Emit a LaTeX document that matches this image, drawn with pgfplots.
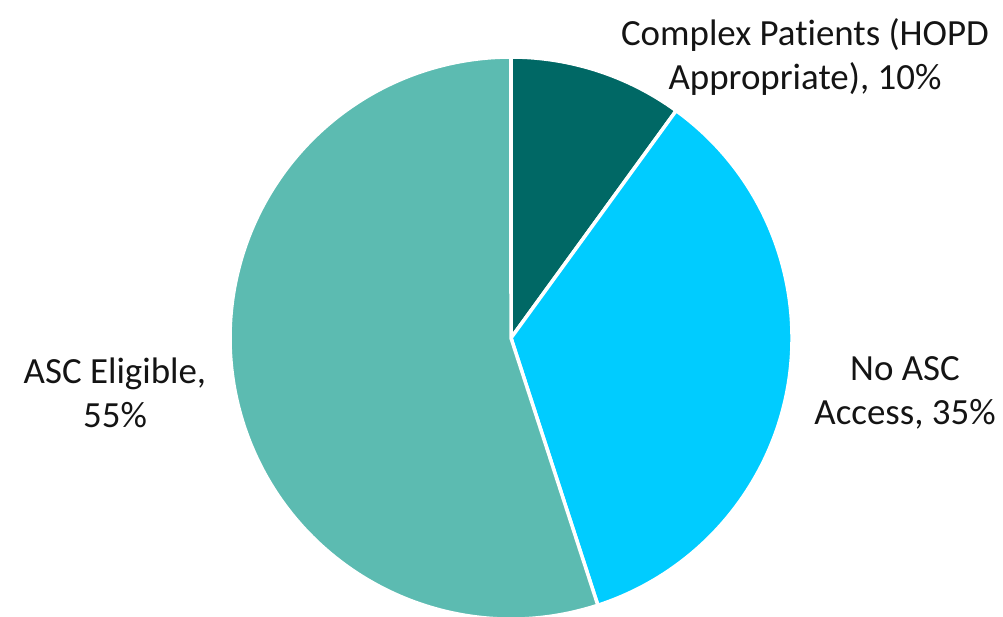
\documentclass[border=0pt]{standalone}
\usepackage{pgfplots}
\usepackage{pgfplotstable}
\pgfplotsset{compat=1.18}
\usepackage{fontspec}
\setmainfont[Ligatures=NoCommon]{Carlito}

\definecolor{complexcol}{HTML}{006865}
\definecolor{noasccol}{HTML}{00CCFF}
\definecolor{asccol}{HTML}{5CBBB1}
\definecolor{txt}{HTML}{141414}

% Share of cases by setting (percent), clockwise from 12 o'clock
\pgfplotstableread{
value
10
35
55
}\sharetable

\begin{document}
\begin{tikzpicture}
% Cumulative slice angles (start at 90 deg, go clockwise)
\pgfplotstablegetelem{0}{value}\of\sharetable \let\va\pgfplotsretval
\pgfplotstablegetelem{1}{value}\of\sharetable \let\vb\pgfplotsretval
\pgfplotstablegetelem{2}{value}\of\sharetable \let\vc\pgfplotsretval
\pgfmathsetmacro{\total}{\va+\vb+\vc}
\pgfmathsetmacro{\angA}{90}
\pgfmathsetmacro{\angB}{\angA-\va/\total*360}
\pgfmathsetmacro{\angC}{\angB-\vb/\total*360}
\pgfmathsetmacro{\angD}{\angC-\vc/\total*360}
\begin{axis}[
  scale only axis,
  width=10.03cm, height=6.16cm,
  xmin=0, xmax=1003, ymin=0, ymax=616,
  hide axis,
  clip=true,
]
\def\rad{2.81cm}
\fill[complexcol, draw=white, line width=1pt, line join=round]
  (axis cs:511,278) -- ++(\angA:\rad) arc[start angle=\angA, end angle=\angB, radius=\rad] -- cycle;
\fill[noasccol, draw=white, line width=1pt, line join=round]
  (axis cs:511,278) -- ++(\angB:\rad) arc[start angle=\angB, end angle=\angC, radius=\rad] -- cycle;
\fill[asccol, draw=white, line width=1pt, line join=round]
  (axis cs:511,278) -- ++(\angC:\rad) arc[start angle=\angC, end angle=\angD, radius=\rad] -- cycle;

\node[align=center, text=txt, font=\fontsize{10.5}{12.5}\selectfont]
  at (axis cs:805,559) {Complex Patients (HOPD\\Appropriate), 10\%};
\node[align=center, text=txt, font=\fontsize{10.5}{12.5}\selectfont]
  at (axis cs:905,223) {No ASC\\Access, 35\%};
\node[align=center, text=txt, font=\fontsize{10.5}{12.5}\selectfont]
  at (axis cs:115,223) {ASC Eligible,\\55\%};
\end{axis}
\pgfresetboundingbox
\useasboundingbox (current axis.south west) rectangle (current axis.north east);
\end{tikzpicture}
\end{document}
